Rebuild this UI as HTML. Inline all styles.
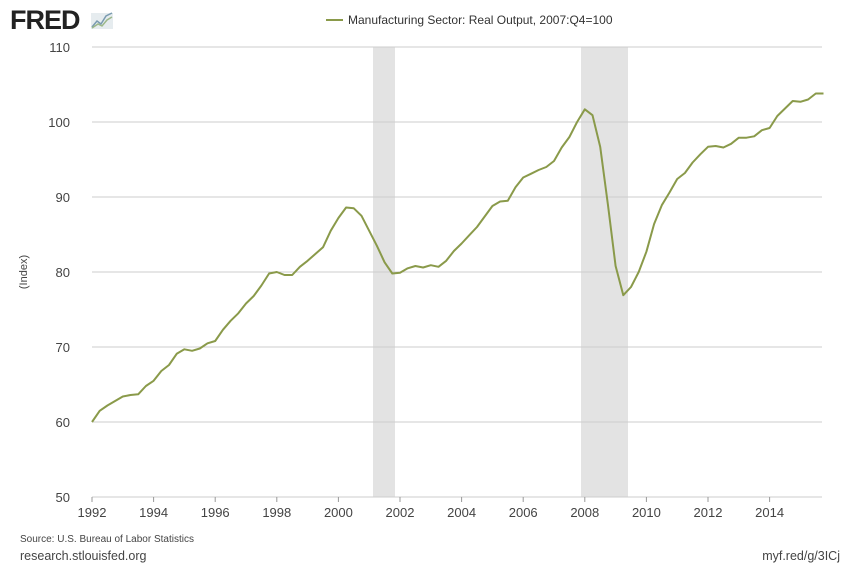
<!DOCTYPE html>
<html><head><meta charset="utf-8"><style>
body{margin:0;background:#fff;width:850px;height:571px;overflow:hidden;font-family:"Liberation Sans",sans-serif}
</style></head><body>
<svg id="s" width="850" height="571" xmlns="http://www.w3.org/2000/svg" font-family="Liberation Sans, sans-serif">
<text x="10" y="29" font-size="27" font-weight="bold" fill="#222" letter-spacing="-1">FRED</text>
<rect x="91" y="13" width="22" height="16" fill="#e6ecef"/>
<polyline points="92,27 97,21 101,24 106,16 112,13" fill="none" stroke="#7a9bb0" stroke-width="1.5"/>
<polyline points="92,28 98,24 102,26 107,20 112,17" fill="none" stroke="#9cb88a" stroke-width="1.5"/>
<line x1="326" y1="20" x2="343" y2="20" stroke="#8a9a4a" stroke-width="2"/>
<text x="348" y="24" font-size="12" fill="#333">Manufacturing Sector: Real Output, 2007:Q4=100</text>
<rect x="373" y="47" width="22" height="450" fill="#e3e3e3"/>
<rect x="581" y="47" width="47" height="450" fill="#e3e3e3"/>
<g id="grid"></g>
<text transform="translate(27,272) rotate(-90)" text-anchor="middle" font-size="11" fill="#444">(Index)</text>
<polyline id="ln" fill="none" stroke="#8a9a4a" stroke-width="2" stroke-linejoin="round"/>
<text x="20" y="542" font-size="10" fill="#444">Source: U.S. Bureau of Labor Statistics</text>
<text x="20" y="560" font-size="12.5" fill="#444">research.stlouisfed.org</text>
<text x="840" y="560" font-size="12.5" fill="#444" text-anchor="end">myf.red/g/3ICj</text>
</svg>
<script>
var g=document.getElementById('grid'),h='';
for(var v=50;v<=110;v+=10){var y=497-(v-50)*7.5;h+='<line x1="92" x2="822" y1="'+y+'" y2="'+y+'" stroke="#ccc" stroke-width="1"/><text x="70" y="'+(y+5)+'" font-size="13" fill="#444" text-anchor="end">'+v+'</text>';}
for(var yr=1992;yr<=2014;yr+=2){var x=92+(yr-1992)*30.8;h+='<line x1="'+x+'" x2="'+x+'" y1="497" y2="502" stroke="#999"/><text x="'+x+'" y="517" font-size="13" fill="#444" text-anchor="middle">'+yr+'</text>';}
g.innerHTML=h;
var d=[60.0,61.5,62.2,62.8,63.4,63.6,63.7,64.8,65.5,66.8,67.6,69.1,69.7,69.5,69.8,70.5,70.8,72.3,73.5,74.5,75.8,76.8,78.2,79.8,80.0,79.6,79.6,80.7,81.5,82.4,83.3,85.5,87.2,88.6,88.5,87.5,85.5,83.5,81.3,79.8,79.9,80.5,80.8,80.6,80.9,80.7,81.5,82.8,83.8,84.9,86.0,87.4,88.8,89.4,89.5,91.3,92.6,93.1,93.6,94.0,94.8,96.6,98.0,100.0,101.7,100.9,96.7,89.0,80.8,76.9,78.0,80.0,82.7,86.4,88.9,90.6,92.4,93.2,94.6,95.7,96.7,96.8,96.6,97.1,97.9,97.9,98.1,98.9,99.2,100.8,101.8,102.8,102.7,103.0,103.8,103.8];
var p=d.map(function(v,i){return (92+i*7.7).toFixed(1)+','+(497-(v-50)*7.5).toFixed(1)}).join(' ');
document.getElementById('ln').setAttribute('points',p);
</script>
</body></html>
